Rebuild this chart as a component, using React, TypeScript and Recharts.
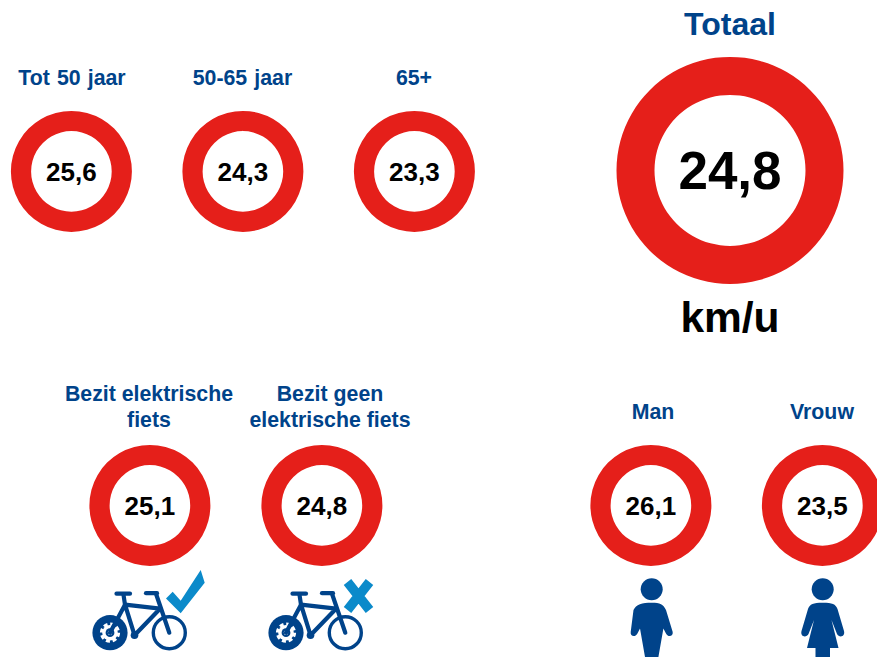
import React from 'react'
import { PieChart, Pie } from 'recharts'

const RED = '#e51f1a'
const NAVY = '#00438a'
const CYAN = '#0b8aca'
const FONT = '"Liberation Sans", Arial, sans-serif'

const ageValues = [25.6, 24.3, 23.3]
const bikeValues = [25.1, 24.8]
const genderValues = [26.1, 23.5]
const totalValue = 24.8

const fmt = (v: number) => v.toFixed(1).replace('.', ',')

const Ring = ({ name, value, cx, cy, outer, inner, size }: any) => (
  <Pie
    key={name}
    data={[{ name, value }]}
    dataKey="value"
    nameKey="name"
    cx={cx}
    cy={cy}
    outerRadius={outer}
    innerRadius={inner}
    startAngle={90}
    endAngle={-270}
    fill={RED}
    stroke="none"
    isAnimationActive={false}
    labelLine={false}
    label={(p: any) => (
      <text
        x={p.cx}
        y={p.cy + size * 0.36}
        textAnchor="middle"
        fill="#000"
        fontFamily={FONT}
        fontWeight={700}
        fontSize={size}
      >
        {fmt(p.value)}
      </text>
    )}
  />
)

const Title = ({ x, y, size = 21.3, fill = NAVY, spacing = 0, children }: any) => (
  <text
    x={x}
    y={y}
    textAnchor="middle"
    fill={fill}
    fontFamily={FONT}
    fontWeight={700}
    fontSize={size}
    style={{ wordSpacing: spacing }}
  >
    {children}
  </text>
)

// origin is the centre of the rear wheel
const Bike = ({ x, y }: { x: number; y: number }) => (
  <g transform={`translate(${x} ${y})`}>
    <circle cx={0} cy={0} r={17.6} fill={NAVY} />
    <circle cx={0} cy={0} r={8.6} fill="none" stroke="#fff" strokeWidth={3} strokeDasharray="4 2.75" />
    <circle cx={0} cy={0} r={7.8} fill="#fff" />
    <circle cx={0} cy={0} r={4.4} fill={NAVY} />
    <circle cx={0} cy={0} r={2.2} fill="#fff" />
    <circle cx={59.3} cy={0} r={16} fill="none" stroke={NAVY} strokeWidth={3.4} />
    <g fill="none" stroke={NAVY} strokeWidth={4.2} strokeLinecap="round" strokeLinejoin="round">
      <path d="M0 0 L15 -28 L24.5 2.5 L50 -24 L15 -28" />
      <path d="M59.3 0 L46 -39" />
      <path d="M36 -39.5 L47 -39.5" />
      <path d="M6.5 -39 L20 -39" />
      <path d="M13.5 -38 L15 -28" />
    </g>
    <circle cx={24.5} cy={2.5} r={3.8} fill={NAVY} />
  </g>
)

export default function App() {
  return (
    <div style={{ position: 'absolute', left: 0, top: 0, width: 877, height: 657, overflow: 'hidden' }}>
      <PieChart width={877} height={657} margin={{ top: 0, right: 0, bottom: 0, left: 0 }}>
        {Ring({ name: 'Tot 50 jaar', value: ageValues[0], cx: 71.4, cy: 171.4, outer: 60.5, inner: 40.3, size: 26 })}
        {Ring({ name: '50-65 jaar', value: ageValues[1], cx: 242.9, cy: 171.4, outer: 60.5, inner: 40.3, size: 26 })}
        {Ring({ name: '65+', value: ageValues[2], cx: 414.4, cy: 171.4, outer: 60.5, inner: 40.3, size: 26 })}
        {Ring({ name: 'Totaal', value: totalValue, cx: 730, cy: 170.4, outer: 113.5, inner: 75.5, size: 53 })}
        {Ring({ name: 'Bezit elektrische fiets', value: bikeValues[0], cx: 149.9, cy: 505.4, outer: 60.5, inner: 40.3, size: 26 })}
        {Ring({ name: 'Bezit geen elektrische fiets', value: bikeValues[1], cx: 321.9, cy: 505.4, outer: 60.5, inner: 40.3, size: 26 })}
        {Ring({ name: 'Man', value: genderValues[0], cx: 650.9, cy: 505.4, outer: 60.5, inner: 40.3, size: 26 })}
        {Ring({ name: 'Vrouw', value: genderValues[1], cx: 822.4, cy: 505.4, outer: 60.5, inner: 40.3, size: 26 })}

        <Title x={72} y={85} spacing={1.2}>Tot 50 jaar</Title>
        <Title x={242.5} y={85} spacing={1.2}>50-65 jaar</Title>
        <Title x={414} y={85}>65+</Title>
        <Title x={730} y={35} size={32}>Totaal</Title>
        <Title x={730} y={332} size={42.5} fill="#000">km/u</Title>
        <Title x={149} y={401}>Bezit elektrische</Title>
        <Title x={149} y={427}>fiets</Title>
        <Title x={330} y={401}>Bezit geen</Title>
        <Title x={330} y={427}>elektrische fiets</Title>
        <Title x={653} y={419}>Man</Title>
        <Title x={822} y={419}>Vrouw</Title>

        <Bike x={110} y={632.7} />
        <polygon points="166,598.5 172.7,591.7 180.7,600.7 200.7,570 204.7,582.7 180.7,613.3" fill={CYAN} />
        <Bike x={286} y={632.7} />
        <path d="M347.5 582 L369.5 610 M369.5 582 L347.5 610" stroke={CYAN} strokeWidth={9.5} fill="none" />

        <g fill={NAVY}>
          <circle cx={651.7} cy={589.3} r={11} />
          <path d="M651.7 602.7 C642 602.7 636 604.5 633.5 610 L630.7 632 C630 637 636 637.5 637.7 633 L640 628.5 L645 657 L658.4 657 L663.4 628.5 L665.7 633 C667.4 637.5 673.4 637 672.7 632 L666 610 C663.5 604.5 660 602.7 651.7 602.7 Z" />
          <circle cx={822.7} cy={589.3} r={11} />
          <path d="M822.7 602.7 C813 602.7 810 604 808 609 L801.5 631 C800 637 806.5 638 808.5 634 L814 620 L807 648 L815.5 648 L815.5 657 L830 657 L830 648 L838.5 648 L831.5 620 L837 634 C839 638 845.5 637 844 631 L837.5 609 C835.5 604 832.5 602.7 822.7 602.7 Z" />
        </g>
      </PieChart>
    </div>
  )
}
